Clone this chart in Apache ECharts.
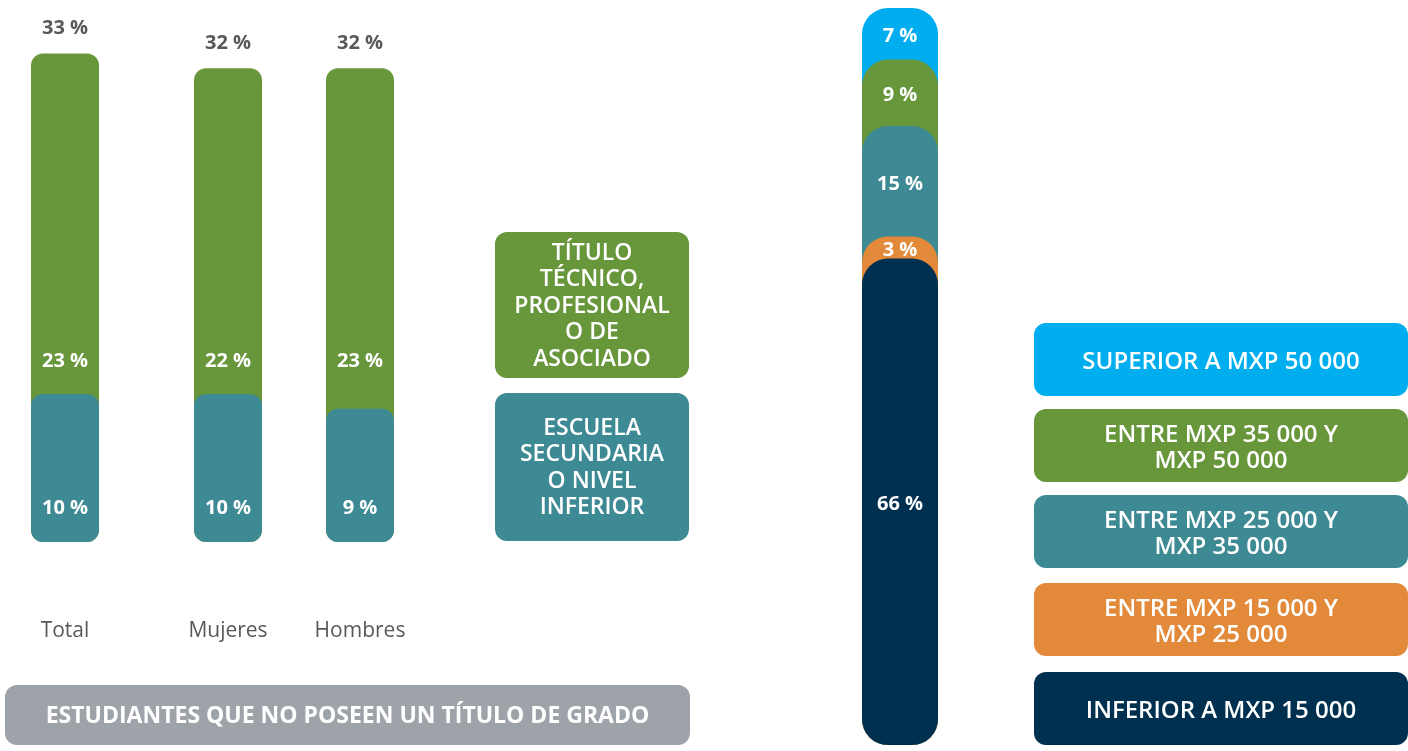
<!DOCTYPE html>
<html>
<head>
<meta charset="utf-8">
<script src="https://cdn.jsdelivr.net/npm/echarts@6/dist/echarts.min.js"></script>
<style>
  html, body { margin: 0; padding: 0; background: #fff; }
  #chart { width: 1408px; height: 751px; }
</style>
</head>
<body>
<div id="chart"></div>
<script>
// datos: estudiantes sin título de grado (%)
const categorias = ['Total', 'Mujeres', 'Hombres']
const tecnico = [23, 22, 23]
const secundaria = [10, 10, 9]
const totales = [33, 32, 32]
const leyendaEstudios = ['TÍTULO\nTÉCNICO,\nPROFESIONAL\nO DE\nASOCIADO', 'ESCUELA\nSECUNDARIA\nO NIVEL\nINFERIOR']

// datos: ingresos (%), de abajo hacia arriba
const ingresos = [
  'INFERIOR A MXP 15 000',
  'ENTRE MXP 15 000 Y\nMXP 25 000',
  'ENTRE MXP 25 000 Y\nMXP 35 000',
  'ENTRE MXP 35 000 Y\nMXP 50 000',
  'SUPERIOR A MXP 50 000'
]
const ingresoValores = [66, 3, 15, 9, 7]

const verde = '#68963B'
const azulVerde = '#3E8A94'
const colores = ['#00304F', '#E38A3A', '#3E8A94', '#68963B', '#00AEEF']
const gris = '#9EA3A9'
const textoGris = '#58595B'
const fuente = '"Open Sans", sans-serif'

const myEcharts = echarts.init(document.getElementById('chart'))

const grids = []
const xAxes = []
const yAxes = []
const series = []

// barras izquierdas, una rejilla por categoria
const centros = [65, 228, 360]
categorias.forEach((cat, i) => {
  grids.push({ left: centros[i] - 34, width: 68, top: 9, bottom: 209 })
  xAxes.push({
    gridIndex: i,
    type: 'category',
    data: [cat],
    axisLine: { show: false },
    axisTick: { show: false },
    axisLabel: { margin: 79, color: textoGris, fontSize: 21, fontFamily: fuente, interval: 0 }
  })
  yAxes.push({ gridIndex: i, type: 'value', min: 0, max: 36, show: false })
  series.push({
    type: 'bar',
    xAxisIndex: i,
    yAxisIndex: i,
    barWidth: '100%',
    barGap: '-100%',
    data: [totales[i]],
    itemStyle: { color: 'transparent' },
    label: {
      show: true,
      position: 'top',
      distance: 15,
      formatter: totales[i] + ' %',
      color: textoGris,
      fontSize: 20,
      fontWeight: 'bold',
      fontFamily: fuente
    }
  })
  series.push({
    type: 'bar',
    xAxisIndex: i,
    yAxisIndex: i,
    barWidth: '100%',
    barGap: '-100%',
    data: [tecnico[i] + secundaria[i]],
    itemStyle: { color: verde, borderRadius: 12 },
    label: {
      show: true,
      position: 'insideBottom',
      distance: 171,
      formatter: tecnico[i] + ' %',
      color: '#fff',
      fontSize: 20,
      fontWeight: 'bold',
      fontFamily: fuente
    }
  })
  series.push({
    type: 'bar',
    xAxisIndex: i,
    yAxisIndex: i,
    barWidth: '100%',
    barGap: '-100%',
    data: [secundaria[i]],
    itemStyle: { color: azulVerde, borderRadius: 12 },
    label: {
      show: true,
      position: 'insideBottom',
      distance: 24,
      formatter: secundaria[i] + ' %',
      color: '#fff',
      fontSize: 20,
      fontWeight: 'bold',
      fontFamily: fuente
    }
  })
})

// columna derecha de ingresos
const gi = categorias.length
grids.push({ left: 862, width: 76, top: 8, bottom: 6 })
xAxes.push({ gridIndex: gi, type: 'category', data: ['ingresos'], show: false })
yAxes.push({ gridIndex: gi, type: 'value', min: 0, max: 100, show: false })

const acumulado = []
ingresoValores.reduce((s, v, k) => (acumulado[k] = s + v), 0)
for (let k = ingresoValores.length - 1; k >= 0; k--) {
  series.push({
    type: 'bar',
    xAxisIndex: gi,
    yAxisIndex: gi,
    barWidth: '100%',
    barGap: '-100%',
    data: [acumulado[k]],
    itemStyle: { color: colores[k], borderRadius: 26 }
  })
}
ingresoValores.forEach((v) => {
  series.push({
    type: 'bar',
    xAxisIndex: gi,
    yAxisIndex: gi,
    stack: 'etiquetas',
    barWidth: '100%',
    barGap: '-100%',
    data: [v],
    itemStyle: { color: 'transparent' },
    label: {
      show: true,
      position: 'inside',
      offset: [0, 3],
      formatter: v + ' %',
      color: '#fff',
      fontSize: 20,
      fontWeight: 'bold',
      fontFamily: fuente
    }
  })
})

// cajas de leyenda
const caja = (x, y, w, h, color, texto, font, lh, dy) => ({
  type: 'group',
  children: [
    { type: 'rect', shape: { x: x, y: y, width: w, height: h, r: 12 }, style: { fill: color } },
    {
      type: 'text',
      style: {
        x: x + w / 2,
        y: y + h / 2 + (dy || 0),
        text: texto,
        fill: '#fff',
        font: font,
        lineHeight: lh,
        textAlign: 'center',
        textVerticalAlign: 'middle'
      }
    }
  ]
})

const graphics = [
  caja(495, 232, 194, 146, verde, leyendaEstudios[0], '600 23px ' + fuente, 26.5, 1),
  caja(495, 393, 194, 148, azulVerde, leyendaEstudios[1], '600 23px ' + fuente, 26.5, 1),
  caja(5, 685, 685, 60, gris, 'ESTUDIANTES QUE NO POSEEN UN TÍTULO DE GRADO', 'bold 23px ' + fuente, 26, 1)
]
const cajaY = [672, 583, 495, 409, 323]
ingresos.forEach((t, k) => {
  graphics.push(caja(1034, cajaY[k], 374, 73, colores[k], t, '600 24px ' + fuente, 26, 3))
})

const option = {
  animation: false,
  textStyle: { fontFamily: fuente },
  grid: grids,
  xAxis: xAxes,
  yAxis: yAxes,
  series: series,
  graphic: graphics
}
myEcharts.setOption(option)
</script>
</body>
</html>
